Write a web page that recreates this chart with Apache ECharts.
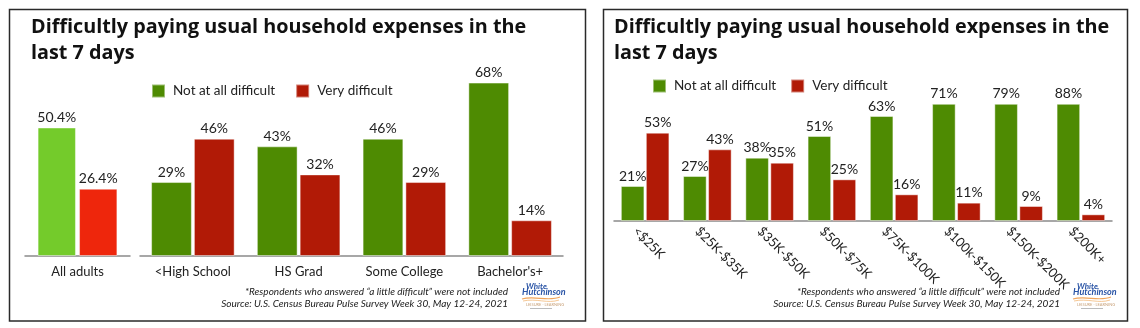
<!DOCTYPE html>
<html>
<head>
<meta charset="utf-8">
<script src="https://cdn.jsdelivr.net/npm/echarts@6/dist/echarts.min.js"></script>
<style>
  html, body { margin: 0; padding: 0; background: #fff; }
  #chart { width: 1140px; height: 328px; }
</style>
</head>
<body>
<div id="chart"></div>
<script>
// ---- data ----
const titleLines = ['Difficultly paying usual household expenses in the', 'last 7 days'];
const seriesNames = ['Not at all difficult', 'Very difficult'];

const allAdultsCategory = ['All adults'];
const allAdultsNotDifficult = [50.4];
const allAdultsVeryDifficult = [26.4];

const educationCategories = ['<High School', 'HS Grad', 'Some College', "Bachelor's+"];
const educationNotDifficult = [29, 43, 46, 68];
const educationVeryDifficult = [46, 32, 29, 14];

const incomeCategories = ['<$25K', '$25K-$35K', '$35K-$50K', '$50K-$75K', '$75K-$100K', '$100k-$150K', '$150K-$200K', '$200K+'];
const incomeNotDifficult = [21, 27, 38, 51, 63, 71, 79, 88];
const incomeVeryDifficult = [53, 43, 35, 25, 16, 11, 9, 4];

const footnoteLines = [
  '*Respondents who answered \u201ca little difficult\u201d were not included',
  'Source: U.S. Census Bureau Pulse Survey Week 30, May 12-24, 2021'
];

// ---- styling ----
const FONT = 'Lato, "Open Sans", sans-serif';
const TITLE_FONT = '"Open Sans", Lato, sans-serif';
const GREEN = '#4e8b02';
const RED = '#b11a06';
const LIGHT_GREEN = '#74cb2b';
const BRIGHT_RED = '#ee260c';
const TEXT = '#222';

const chart = echarts.init(document.getElementById('chart'), null, { renderer: 'canvas' });

function valueLabel() {
  return {
    show: true, position: 'top', distance: 3,
    color: TEXT, fontFamily: FONT, fontSize: 14,
    formatter: p => p.value + '%'
  };
}

function barSeries(name, data, color, axis, extra) {
  return Object.assign({
    type: 'bar', name, data,
    xAxisIndex: axis, yAxisIndex: axis,
    clip: true,
    itemStyle: { color, borderColor: 'rgba(255,255,255,0.45)', borderWidth: 1 },
    label: valueLabel(),
    emphasis: { disabled: true }
  }, extra || {});
}

function catAxis(gridIndex, data, labelExtra) {
  return {
    type: 'category', gridIndex, data,
    axisLine: { lineStyle: { color: '#8a8a8a', width: 1.5 } },
    axisTick: { show: false },
    axisLabel: Object.assign({ color: TEXT, fontFamily: FONT, fontSize: 13, margin: 9, interval: 0 }, labelExtra || {})
  };
}

function valAxis(gridIndex, max) {
  return { type: 'value', gridIndex, min: 0, max, show: false, splitLine: { show: false } };
}

function titleText(x, y, text) {
  return { type: 'text', left: x, top: y, style: { text, fill: '#111', font: '700 19.8px ' + TITLE_FONT } };
}

function legendFor(left, top, gap) {
  return {
    data: seriesNames, left, top, padding: 0, icon: 'rect',
    itemWidth: 13, itemHeight: 13, itemGap: gap, selectedMode: false,
    textStyle: { color: TEXT, fontFamily: FONT, fontSize: 13.5, padding: [0, 0, 0, 3] }
  };
}

// small White Hutchinson mark
function logo(x, y) {
  return {
    type: 'group', x, y,
    children: [
      { type: 'text', x: 4, y: 0, style: { text: 'White', fill: '#2b55a6', font: 'italic 700 8px ' + FONT } },
      { type: 'text', x: 0, y: 6, style: { text: 'Hutchinson', fill: '#2b55a6', font: 'italic 700 9px ' + FONT } },
      { type: 'bezierCurve', shape: { x1: 0, y1: 17, cpx1: 12, cpy1: 13, cpx2: 26, cpy2: 20, x2: 38, y2: 15 }, style: { stroke: '#f0a45a', lineWidth: 1.2, fill: null } },
      { type: 'bezierCurve', shape: { x1: 1, y1: 19, cpx1: 14, cpy1: 16, cpx2: 26, cpy2: 22, x2: 37, y2: 18 }, style: { stroke: '#f3b978', lineWidth: 0.8, fill: null } },
      { type: 'text', x: 4, y: 21, style: { text: 'LEISURE \u00b7 LEARNING', fill: '#c9a27a', font: '4px ' + FONT } },
      { type: 'rect', shape: { x: 8, y: 26, width: 22, height: 1 }, style: { fill: '#bbb' } }
    ]
  };
}

function footnotes(rightX) {
  return [
    { type: 'text', right: 1140 - rightX, top: 287, style: { text: footnoteLines[0], fill: TEXT, font: 'italic 10px ' + FONT } },
    { type: 'text', right: 1140 - rightX, top: 299, style: { text: footnoteLines[1], fill: TEXT, font: 'italic 10px ' + FONT } }
  ];
}

const option = {
  animation: false,
  backgroundColor: '#fff',
  textStyle: { fontFamily: FONT },
  grid: [
    { left: 25, width: 105, top: 52, bottom: 72 },
    { left: 140, width: 423, top: 52, bottom: 72 },
    { left: 614, width: 498, top: 221 - 116.67, bottom: 107 }
  ],
  legend: [
    legendFor(151, 83.5, 20),
    legendFor(652, 78.5, 14)
  ],
  xAxis: [
    catAxis(0, allAdultsCategory),
    catAxis(1, educationCategories),
    catAxis(2, incomeCategories, { rotate: -45, margin: 18, padding: [0, 0, 0, -14] })
  ],
  yAxis: [valAxis(0, 80), valAxis(1, 80), valAxis(2, 70)],
  series: [
    barSeries('All adults \u2013 not at all difficult', allAdultsNotDifficult, LIGHT_GREEN, 0, { barGap: '8%', barCategoryGap: '24%' }),
    barSeries('All adults \u2013 very difficult', allAdultsVeryDifficult, BRIGHT_RED, 0),
    barSeries(seriesNames[0], educationNotDifficult, GREEN, 1, { barGap: '5%', barCategoryGap: '21%' }),
    barSeries(seriesNames[1], educationVeryDifficult, RED, 1),
    barSeries(seriesNames[0], incomeNotDifficult, GREEN, 2, { barGap: '6%', barCategoryGap: '22%' }),
    barSeries(seriesNames[1], incomeVeryDifficult, RED, 2)
  ],
  graphic: [
    { type: 'rect', shape: { x: 9.5, y: 9.5, width: 576, height: 311.5 }, style: { fill: null, stroke: '#2a2a2a', lineWidth: 1.5 }, z: -1 },
    { type: 'rect', shape: { x: 603.5, y: 9.5, width: 524, height: 311.5 }, style: { fill: null, stroke: '#2a2a2a', lineWidth: 1.5 }, z: -1 },
    titleText(31, 17, titleLines[0]),
    titleText(31, 43, titleLines[1]),
    titleText(614, 17, titleLines[0]),
    titleText(614, 43, titleLines[1]),
    ...footnotes(508),
    ...footnotes(1060),
    logo(522, 282),
    logo(1073, 282)
  ]
};

chart.setOption(option);
</script>
</body>
</html>
